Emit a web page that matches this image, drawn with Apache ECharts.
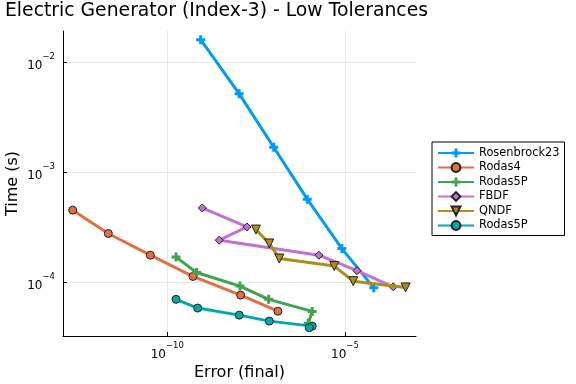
<!DOCTYPE html>
<html><head><meta charset="utf-8">
<script src="https://cdn.jsdelivr.net/npm/echarts@6/dist/echarts.min.js"></script>
<style>html,body{margin:0;padding:0;background:#fff}#c{width:576px;height:384px}</style>
</head><body><div id="c"></div>
<script>
const titleText = 'Electric Generator (Index-3) - Low Tolerances';
const xName = 'Error (final)';
const yName = 'Time (s)';
const seriesNames = ['Rosenbrock23', 'Rodas4', 'Rodas5P', 'FBDF', 'QNDF', 'Rodas5P'];
const seriesColors = ['#009AFA', '#E36F47', '#3EA44E', '#C371D2', '#AC8E18', '#00A9AD'];
const xTickExps = [-10, -5];
const yTickExps = [-4, -3, -2];

const errRosenbrock23 = [8.7e-10, 1.05e-8, 9.9e-8, 8.7e-7, 8.2e-6, 6.5e-5];
const timeRosenbrock23 = [0.01607, 0.00519, 0.001687, 0.000569, 0.000202, 8.87e-5];
const errRodas4 = [2.18e-13, 2.19e-12, 3.33e-11, 5.28e-10, 1.16e-8, 1.30e-7];
const timeRodas4 = [4.52e-4, 2.77e-4, 1.76e-4, 1.127e-4, 7.62e-5, 5.44e-5];
const errRodas5P = [1.76e-10, 6.71e-10, 1.11e-8, 7.13e-8, 1.20e-6, 9.27e-7];
const timeRodas5P = [1.69e-4, 1.225e-4, 9.2e-5, 6.97e-5, 5.42e-5, 4.22e-5];
const errFBDF = [9.66e-10, 1.75e-8, 2.90e-9, 1.85e-6, 2.18e-5, 2.29e-4];
const timeFBDF = [4.73e-4, 3.18e-4, 2.41e-4, 1.76e-4, 1.27e-4, 9.06e-5];
const errQNDF = [3.13e-8, 7.41e-8, 1.42e-7, 5.0e-6, 1.71e-5, 5.1e-4];
const timeQNDF = [3.01e-4, 2.25e-4, 1.64e-4, 1.40e-4, 1.02e-4, 8.95e-5];
const errRodas5P2 = [1.76e-10, 7.16e-10, 1.06e-8, 7.41e-8, 1.20e-6, 9.9e-7];
const timeRodas5P2 = [6.97e-5, 5.81e-5, 5.01e-5, 4.42e-5, 3.98e-5, 3.85e-5];

const errs = [errRosenbrock23, errRodas4, errRodas5P, errFBDF, errQNDF, errRodas5P2];
const times = [timeRosenbrock23, timeRodas4, timeRodas5P, timeFBDF, timeQNDF, timeRodas5P2];

const PLUS = 'path://M-1,-3L1,-3L1,-1L3,-1L3,1L1,1L1,3L-1,3L-1,1L-3,1L-3,-1L-1,-1Z';
const symbols = [PLUS, 'circle', PLUS, 'diamond', 'triangle', 'circle'];
const symbolRot = [0, 0, 0, 0, 180, 0];
const symbolSizes = [9, 8, 9, 8, 9, 8];

const FONT = 'DejaVu Sans';
function supLabel(v) {
  const e = Math.round(v);
  return '{b|10}{s|' + (e < 0 ? '\u2212' : '') + Math.abs(e) + '}';
}
const richSup = {
  b: { fontSize: 12, fontFamily: FONT, color: '#000', lineHeight: 20, verticalAlign: 'bottom' },
  s: { fontSize: 8.5, fontFamily: FONT, color: '#000', lineHeight: 8, verticalAlign: 'top' }
};

const series = seriesNames.map((nm, i) => ({
  type: 'line',
  name: i === 5 ? nm + ' ' : nm,
  data: errs[i].map((x, j) => [Math.log10(x), Math.log10(times[i][j])]),
  symbol: symbols[i],
  symbolRotate: symbolRot[i],
  symbolSize: symbolSizes[i],
  showAllSymbol: true,
  color: seriesColors[i],
  lineStyle: { width: 3, color: seriesColors[i] },
  itemStyle: {
    color: seriesColors[i],
    borderColor: symbols[i] === PLUS ? seriesColors[i] : '#222',
    borderWidth: symbols[i] === PLUS ? 0 : 1
  },
  emphasis: { disabled: true },
  animation: false,
  z: 2 + i
}));

const chart = echarts.init(document.getElementById('c'), null, { renderer: 'canvas' });
chart.setOption({
  animation: false,
  backgroundColor: '#fff',
  title: {
    text: titleText, left: 5, top: 2, padding: 0,
    textStyle: { fontFamily: FONT, fontSize: 18.8, fontWeight: 'normal', color: '#000' }
  },
  grid: { left: 63, top: 31, width: 353, height: 305, containLabel: false, outerBoundsMode: 'none' },
  legend: {
    left: 432, top: 142, orient: 'vertical',
    data: seriesNames.map((n, i) => i === 5 ? n + ' ' : n),
    formatter: n => n.trim(),
    itemWidth: 36, itemHeight: 11, itemGap: 2.5,
    padding: [5, 5, 4, 5],
    borderColor: '#000', borderWidth: 1, backgroundColor: '#fff',
    textStyle: { fontFamily: FONT, fontSize: 11.4, color: '#000', lineHeight: 12 },
    selectedMode: false
  },
  xAxis: {
    type: 'value', min: -12.935, max: -3.0,
    name: xName, nameLocation: 'middle', nameGap: 29, nameMoveOverlap: false,
    nameTextStyle: { fontFamily: FONT, fontSize: 16, color: '#000' },
    axisLine: { show: true, lineStyle: { color: '#000', width: 1 } },
    axisTick: { show: true, inside: true, length: 4, customValues: xTickExps, lineStyle: { color: '#000' } },
    axisLabel: { customValues: xTickExps, formatter: supLabel, rich: richSup, margin: 5 },
    splitLine: { show: true, lineStyle: { color: '#e8e8e8', width: 1 } }
  },
  yAxis: {
    type: 'value', min: -4.49, max: -1.715,
    name: yName, nameLocation: 'middle', nameGap: 42, nameRotate: 90, nameMoveOverlap: false,
    nameTextStyle: { fontFamily: FONT, fontSize: 16, color: '#000' },
    axisLine: { show: true, lineStyle: { color: '#000', width: 1 } },
    axisTick: { show: true, inside: true, length: 4, customValues: yTickExps, lineStyle: { color: '#000' } },
    axisLabel: { customValues: yTickExps, formatter: supLabel, rich: richSup, margin: 8 },
    splitLine: { show: true, lineStyle: { color: '#e8e8e8', width: 1 } }
  },
  series: series
});
</script>
</body></html>
